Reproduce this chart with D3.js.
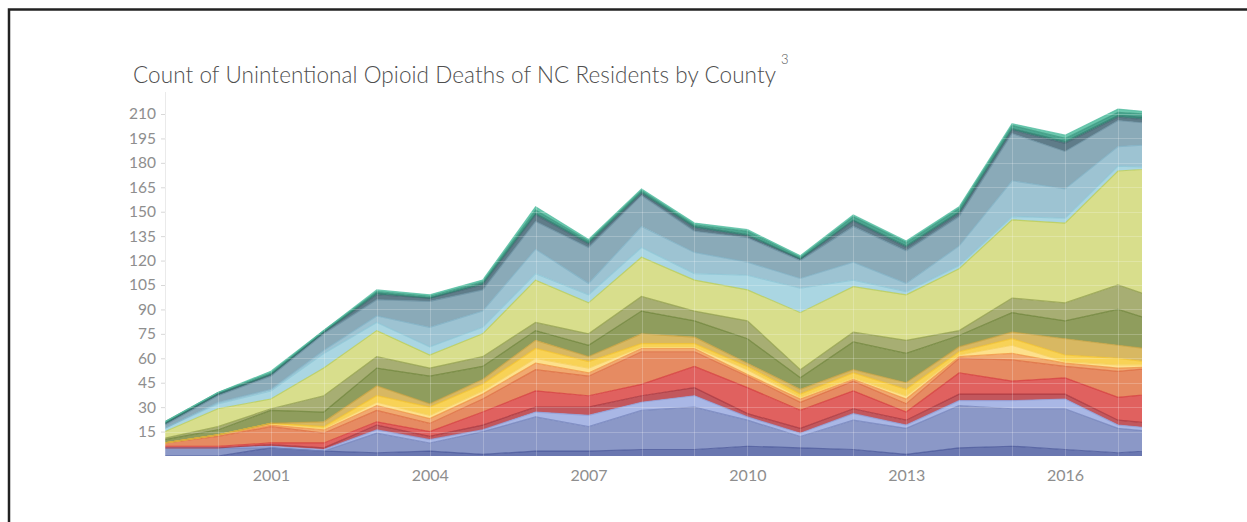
<!DOCTYPE html>
<html>
<head>
<meta charset="utf-8">
<script src="https://cdn.jsdelivr.net/npm/d3@7/dist/d3.min.js"></script>
<style>
  html, body { margin: 0; padding: 0; background: #ffffff; }
  svg { display: block; }
</style>
</head>
<body>
<svg id="chart" width="1247" height="522"></svg>
<script>
// ---------- DATA ----------
const years = [1999,2000,2001,2002,2003,2004,2005,2006,2007,2008,2009,2010,2011,2012,2013,2014,2015,2016,2017,2018];
const yTicks = [15,30,45,60,75,90,105,120,135,150,165,180,195,210];
const xTicks = [2001,2004,2007,2010,2013,2016];

// stacked bottom -> top
const county01 = [0,0,5,3,2,3,1,3,3,4,4,6,5,4,1,5,6,4,2,4];
const county02 = [5,5,0,0,12,5,14,21,15,24,26,16,7,18,16,26,23,25,15,10];
const county03 = [0,0,1,1,2,2,1,3,7,5,7,2,2,4,2,3,5,6,2,2];
const county04 = [0,0,1,1,3,2,3,3,5,4,5,2,3,3,3,4,4,3,3,3];
const county05 = [1,1,1,3,2,3,8,10,7,7,13,16,11,11,5,13,8,10,14,20];
const county06 = [2,6,10,6,7,5,8,13,12,20,9,7,5,6,5,9,13,7,16,16];
const county07 = [0,1,1,2,3,3,3,4,2,2,2,1,2,1,3,1,4,2,2,0];
const county08 = [0,0,1,1,2,2,2,3,3,1,1,3,1,1,2,1,5,1,2,1];
const county09 = [0,0,0,1,4,5,4,6,4,2,2,2,2,3,4,2,4,4,4,0];
const county10 = [0,0,0,3,6,2,3,5,3,6,4,2,3,2,4,3,4,10,8,8];
const county11 = [2,3,8,6,11,17,8,6,7,14,10,15,7,17,18,7,12,11,22,16];
const county12 = [1,2,1,10,7,5,6,5,7,9,6,11,5,6,8,3,9,11,15,14];
const county13 = [4,11,6,17,16,8,14,26,19,24,19,19,35,28,28,38,48,49,70,83];
const county14 = [2,3,5,9,5,5,4,4,5,6,4,9,15,4,2,2,2,3,3,0];
const county15 = [0,1,1,2,4,12,10,15,7,13,13,8,6,11,5,12,22,18,12,15];
const county16 = [2,4,8,10,10,16,13,17,22,19,13,15,11,22,20,18,29,23,16,11];
const county17 = [1,1,1,1,3,2,3,4,2,1,2,1,1,3,2,2,2,5,2,2];
const county18 = [0,0,0,0,1,0,1,1,1,1,1,1,0,1,1,1,1,1,1,2];
const county19 = [1,1,1,1,1,1,1,2,1,1,1,2,1,2,2,2,2,2,2,2];
const county20 = [0,0,1,0,1,1,1,2,1,1,1,1,1,1,1,1,1,2,2,1];

const seriesValues = [county01,county02,county03,county04,county05,county06,county07,county08,county09,county10,
                      county11,county12,county13,county14,county15,county16,county17,county18,county19,county20];
const seriesNames = seriesValues.map((_, i) => "County " + (i + 1));
const seriesColors = ["#6a77b0","#8b98c7","#a9b7e5","#c2575d","#e0615f","#e68b62","#f1a970","#fde08c","#f8d256","#d8b862",
                      "#8f9d5d","#a7ae73","#d8de8c","#aad6e2","#9dc3d2","#8aaab8","#5f7c89","#3e8c7f","#4ba690","#6cc8ae"];
const lineColors   = ["#4a579a","#7483bb","#8fa0dc","#a8353d","#d43c3c","#dc6c3e","#ef9442","#f6cf5a","#f2c22a","#c9a33f",
                      "#6e8338","#93a04c","#b9cc52","#8cc6d6","#7fb0c4","#6a91a2","#4a6774","#2e7a6d","#3a9880","#58bea2"];

// ---------- LAYOUT ----------
const svg = d3.select("#chart");
const W = 1247, H = 522;
const plotLeft = 165, plotRight = 1142, plotTop = 92, plotBottom = 456;
const FONT = "Lato, 'Open Sans', sans-serif";

svg.append("rect").attr("width", W).attr("height", H).attr("fill", "#ffffff");

const x = d3.scaleLinear().domain([1999, 2017]).range([plotLeft, 1118]);
const y = d3.scaleLinear().domain([0, 210]).range([plotBottom, 114]);

const rows = years.map((yr, j) => {
  const r = { year: yr };
  seriesNames.forEach((n, i) => { r[n] = seriesValues[i][j]; });
  return r;
});
const stacked = d3.stack().keys(seriesNames)(rows);

svg.append("defs").append("clipPath").attr("id", "plotClip")
  .append("rect").attr("x", plotLeft).attr("y", 0).attr("width", plotRight - plotLeft).attr("height", plotBottom);

// axis line (left)
svg.append("line").attr("x1", plotLeft + 0.5).attr("x2", plotLeft + 0.5)
  .attr("y1", plotTop).attr("y2", plotBottom).attr("stroke", "#e4e4e4").attr("stroke-width", 1);

const g = svg.append("g").attr("clip-path", "url(#plotClip)");

const area = d3.area().x(d => x(d.data.year)).y0(d => y(d[0])).y1(d => y(d[1]));
const topLine = d3.line().x(d => x(d.data.year)).y(d => y(d[1]));

g.selectAll("path.area").data(stacked).join("path")
  .attr("class", "area")
  .attr("d", area)
  .attr("fill", (d, i) => seriesColors[i]);

g.selectAll("path.edge").data(stacked).join("path")
  .attr("class", "edge")
  .attr("d", topLine)
  .attr("fill", "none")
  .attr("stroke", (d, i) => lineColors[i])
  .attr("stroke-opacity", 0.8)
  .attr("stroke-width", 1.2);

// faint gridlines drawn over the translucent marks
const grid = g.append("g").attr("stroke", "#ffffff").attr("stroke-opacity", 0.22).attr("stroke-width", 1);
grid.selectAll("line.h").data(yTicks).join("line")
  .attr("x1", plotLeft).attr("x2", plotRight)
  .attr("y1", d => Math.round(y(d)) + 0.5).attr("y2", d => Math.round(y(d)) + 0.5);
grid.selectAll("line.v").data(years).join("line")
  .attr("x1", d => Math.round(x(d)) + 0.5).attr("x2", d => Math.round(x(d)) + 0.5)
  .attr("y1", plotTop).attr("y2", plotBottom);

// y axis
const yAxis = d3.axisLeft(y).tickValues(yTicks).tickSize(4).tickPadding(5);
const ya = svg.append("g").attr("transform", `translate(${plotLeft},0)`).call(yAxis);
ya.select(".domain").remove();
ya.selectAll(".tick line").attr("stroke", "#d8d8d8");
ya.selectAll(".tick text").attr("fill", "#8e8e8e").attr("font-size", "15.5px").attr("font-family", FONT);

// x axis
const xAxis = d3.axisBottom(x).tickValues(xTicks).tickFormat(d3.format("d")).tickSize(0).tickPadding(14);
const xa = svg.append("g").attr("transform", `translate(0,${plotBottom})`).call(xAxis);
xa.select(".domain").remove();
xa.selectAll(".tick text").attr("fill", "#8e8e8e").attr("font-size", "16px").attr("font-family", FONT);

// title
const titleWidth = 643;
svg.append("text").attr("x", 133).attr("y", 83)
  .attr("font-family", FONT).attr("font-size", "22.5px").attr("font-weight", 300).attr("fill", "#4f4f4f")
  .attr("textLength", titleWidth).attr("lengthAdjust", "spacing")
  .text("Count of Unintentional Opioid Deaths of NC Residents by County");
svg.append("text").attr("x", 133 + titleWidth + 5).attr("y", 64)
  .attr("font-family", FONT).attr("font-size", "13px").attr("font-weight", 300).attr("fill", "#555555")
  .text("3");

// frame
svg.append("path").attr("d", `M9,${H} L9,9.5 L${W},9.5`)
  .attr("fill", "none").attr("stroke", "#222222").attr("stroke-width", 2.5);
</script>
</body>
</html>
